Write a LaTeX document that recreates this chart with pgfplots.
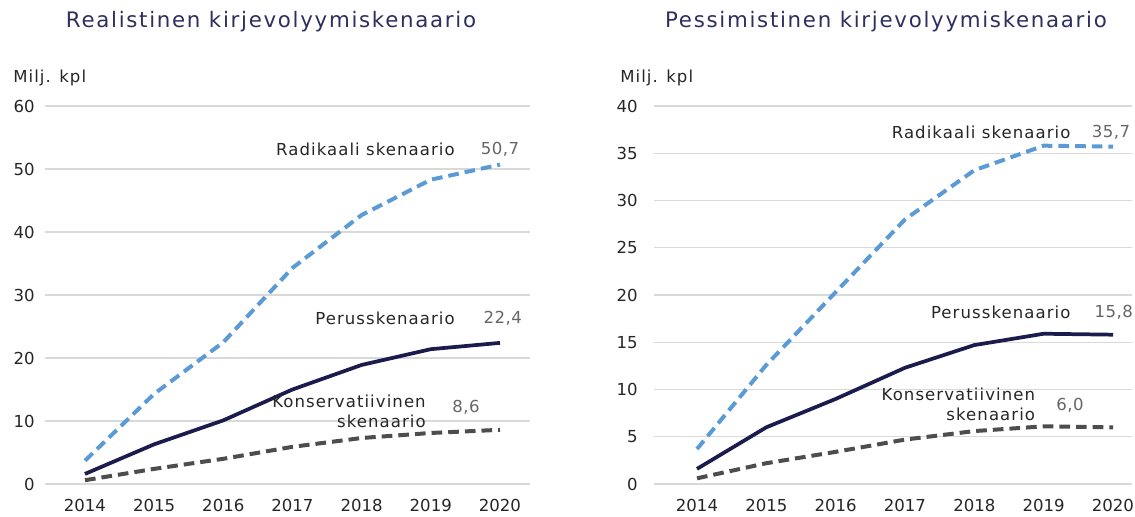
\documentclass[border=0pt]{standalone}
\usepackage{pgfplots}
\pgfplotsset{compat=1.18}
\usepackage{fontspec}
\setmainfont{DejaVu Sans}
\newfontfamily\titlefont[LetterSpace=8]{DejaVu Sans}
\newfontfamily\annfont[LetterSpace=6.5]{DejaVu Sans}
\newfontfamily\valfont[LetterSpace=3]{DejaVu Sans}
\definecolor{radi}{HTML}{5B9BD5}
\definecolor{perus}{HTML}{1C1B4D}
\definecolor{kons}{HTML}{4D4D4D}
\definecolor{titlec}{HTML}{2E2F5E}
\definecolor{gridc}{HTML}{D9D9D9}
\definecolor{txt}{HTML}{262626}
\definecolor{valc}{HTML}{666666}
\tikzset{
  annot/.style={font=\annfont\fontsize{12.4}{15}\selectfont, text=txt, inner sep=0pt},
  valt/.style={font=\valfont\fontsize{12.4}{15}\selectfont, text=valc, inner sep=0pt},
  radl/.style={radi, line width=3pt, dash pattern=on 8pt off 4.5pt},
  perl/.style={perus, line width=2.8pt},
  konl/.style={kons, line width=3pt, dash pattern=on 8pt off 4.5pt},
}
\begin{document}
\begin{tikzpicture}
\useasboundingbox (0,0) rectangle (851.25pt,387.75pt);
\pgfplotsset{
  myax/.style={
    scale only axis,
    anchor=south west,
    height=283.5pt,
    ymin=0,
    axis line style={draw=none},
    major tick length=0pt,
    ymajorgrids,
    grid style={gridc, line width=0.8pt},
    xtick={2014,...,2020},
    xticklabel style={inner sep=0pt, anchor=north, yshift=-11pt, font=\fontsize{12.4}{14}\selectfont, text=txt},
    yticklabel style={inner sep=0pt, anchor=east, font=\fontsize{12.4}{14}\selectfont, text=txt},
    /pgf/number format/assume math mode=true,
    /pgf/number format/1000 sep={},
    clip=false,
  },
}
% Titles
\node[font=\titlefont\fontsize{16}{18}\selectfont, text=titlec] at (203.25pt,371.25pt) {Realistinen kirjevolyymiskenaario};
\node[font=\titlefont\fontsize{16}{18}\selectfont, text=titlec] at (664.5pt,371.25pt) {Pessimistinen kirjevolyymiskenaario};
\node[anchor=west, annot] at (9.75pt,329.25pt) {Milj. kpl};
\node[anchor=west, annot] at (465pt,329.25pt) {Milj. kpl};

\begin{axis}[myax, at={(33.75pt,24.75pt)}, width=363.75pt,
  xmin=2013.422, xmax=2020.434, ymax=60, ytick={0,10,...,60},
  yticklabel style={xshift=-7.5pt}]
\addplot[konl] coordinates {(2014,0.6) (2015,2.4) (2016,4.0) (2017,5.9) (2018,7.3) (2019,8.1) (2020,8.6)};
\addplot[radl] coordinates {(2014,3.7) (2015,14.3) (2016,22.5) (2017,34.3) (2018,42.7) (2019,48.3) (2020,50.7)};
\addplot[perl] coordinates {(2014,1.6) (2015,6.3) (2016,10.1) (2017,15.0) (2018,18.9) (2019,21.4) (2020,22.4)};
\node[annot, anchor=east] at (axis cs:2019.35,53.2) {Radikaali skenaario};
\node[valt] at (axis cs:2020.0,53.2) {50,7};
\node[annot, anchor=east] at (axis cs:2019.35,26.3) {Perusskenaario};
\node[valt] at (axis cs:2020.04,26.3) {22,4};
\node[annot, anchor=east, align=right] at (axis cs:2018.93,11.6) {Konservatiivinen\\skenaario};
\node[valt] at (axis cs:2019.51,12.1) {8,6};
\end{axis}

\begin{axis}[myax, at={(490.5pt,24.75pt)}, width=358.5pt,
  xmin=2013.38, xmax=2020.274, ymax=40, ytick={0,5,...,40},
  yticklabel style={xshift=-12pt}]
\addplot[konl] coordinates {(2014,0.6) (2015,2.2) (2016,3.4) (2017,4.7) (2018,5.6) (2019,6.1) (2020,6.0)};
\addplot[radl] coordinates {(2014,3.7) (2015,12.6) (2016,20.3) (2017,28.0) (2018,33.2) (2019,35.8) (2020,35.7)};
\addplot[perl] coordinates {(2014,1.6) (2015,6.0) (2016,9.0) (2017,12.3) (2018,14.7) (2019,15.9) (2020,15.8)};
\node[annot, anchor=east] at (axis cs:2019.39,37.25) {Radikaali skenaario};
\node[valt] at (axis cs:2019.97,37.25) {35,7};
\node[annot, anchor=east] at (axis cs:2019.39,18.2) {Perusskenaario};
\node[valt] at (axis cs:2020.01,18.2) {15,8};
\node[annot, anchor=east, align=right] at (axis cs:2018.88,8.41) {Konservatiivinen\\skenaario};
\node[valt] at (axis cs:2019.38,8.36) {6,0};
\end{axis}
\end{tikzpicture}
\end{document}
